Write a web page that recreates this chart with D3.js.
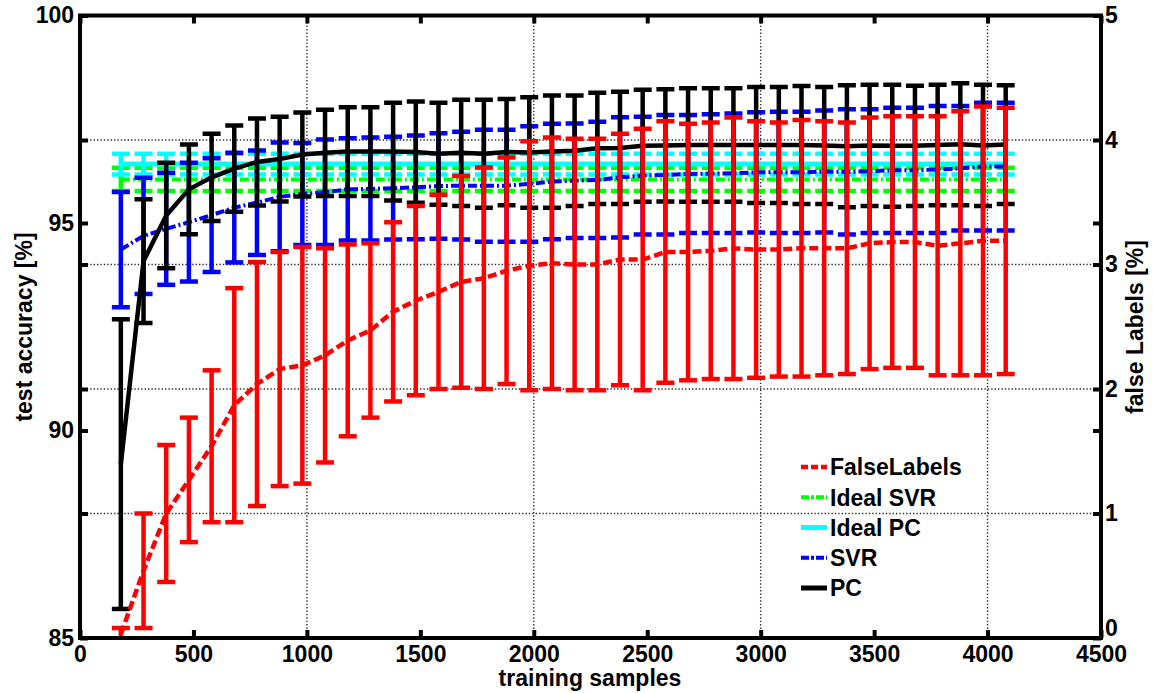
<!DOCTYPE html>
<html><head><meta charset="utf-8">
<script src="https://cdn.jsdelivr.net/npm/d3@7/dist/d3.min.js"></script>
<style>
body{margin:0;background:#fff}
text{font-family:"Liberation Sans",Arial,Helvetica,sans-serif;font-weight:bold;fill:#000}
</style>
</head><body>
<svg id="chart" width="1153" height="693"></svg>
<script>
// ---- data ----
const trainingSamples = [180,280,380,480,580,680,780,880,980,1080,1180,1280,1380,1480,1580,1680,1780,1880,1980,2080,2180,2280,2380,2480,2580,2680,2780,2880,2980,3080,3180,3280,3380,3480,3580,3680,3780,3880,3980,4080];
const pcMean  = [89.19,94.08,95.18,95.81,96.10,96.31,96.47,96.54,96.65,96.69,96.72,96.72,96.72,96.71,96.67,96.69,96.67,96.71,96.70,96.72,96.74,96.80,96.81,96.86,96.87,96.88,96.88,96.88,96.88,96.88,96.88,96.87,96.85,96.87,96.86,96.86,96.88,96.90,96.87,96.89];
const pcErr   = [3.49,1.49,1.27,1.08,1.05,1.04,1.05,1.02,1.01,1.04,1.07,1.07,1.18,1.22,1.23,1.28,1.30,1.28,1.33,1.35,1.33,1.34,1.35,1.35,1.35,1.37,1.37,1.37,1.40,1.40,1.42,1.41,1.47,1.46,1.47,1.45,1.45,1.47,1.46,1.43];
const svrMean = [94.36,94.69,94.86,95.02,95.19,95.37,95.49,95.63,95.70,95.74,95.81,95.82,95.84,95.86,95.89,95.90,95.90,95.90,95.94,96.00,96.02,96.04,96.10,96.14,96.16,96.18,96.19,96.20,96.22,96.22,96.22,96.24,96.23,96.25,96.27,96.27,96.29,96.32,96.36,96.36];
const svrErr  = [1.39,1.40,1.35,1.43,1.37,1.32,1.26,1.31,1.23,1.27,1.23,1.24,1.24,1.25,1.27,1.30,1.35,1.35,1.39,1.39,1.38,1.40,1.45,1.42,1.44,1.42,1.43,1.44,1.45,1.46,1.46,1.47,1.51,1.49,1.51,1.51,1.53,1.50,1.54,1.54];
const idealPcMean  = [96.42,96.42,96.42,96.42,96.42,96.42,96.42,96.42,96.42,96.42,96.42,96.42,96.42,96.42,96.42,96.42,96.42,96.42,96.42,96.42,96.42,96.42,96.42,96.42,96.42,96.42,96.42,96.42,96.42,96.42,96.42,96.42,96.42,96.42,96.42,96.42,96.42,96.42,96.42,96.42];
const idealPcErr   = [0.25,0.25,0.25,0.25,0.25,0.25,0.25,0.25,0.25,0.25,0.25,0.25,0.25,0.25,0.25,0.25,0.25,0.25,0.25,0.25,0.25,0.25,0.25,0.25,0.25,0.25,0.25,0.25,0.25,0.25,0.25,0.25,0.25,0.25,0.25,0.25,0.25,0.25,0.25,0.25];
const idealSvrMean = [96.05,96.05,96.05,96.05,96.05,96.05,96.05,96.05,96.05,96.05,96.05,96.05,96.05,96.05,96.05,96.05,96.05,96.05,96.05,96.05,96.05,96.05,96.05,96.05,96.05,96.05,96.05,96.05,96.05,96.05,96.05,96.05,96.05,96.05,96.05,96.05,96.05,96.05,96.05,96.05];
const idealSvrErr  = [0.28,0.28,0.28,0.28,0.28,0.28,0.28,0.28,0.28,0.28,0.28,0.28,0.28,0.28,0.28,0.28,0.28,0.28,0.28,0.28,0.28,0.28,0.28,0.28,0.28,0.28,0.28,0.28,0.28,0.28,0.28,0.28,0.28,0.28,0.28,0.28,0.28,0.28,0.28,0.28];
const falseLabelsMean = [0.03,0.54,1.00,1.27,1.54,1.87,2.04,2.16,2.19,2.27,2.39,2.47,2.62,2.71,2.78,2.86,2.89,2.95,2.99,3.01,3.00,3.00,3.04,3.04,3.10,3.10,3.11,3.13,3.12,3.12,3.13,3.13,3.13,3.17,3.18,3.18,3.15,3.17,3.19,3.19];
const falseLabelsErr  = [0.05,0.46,0.55,0.50,0.61,0.94,0.98,0.94,0.95,0.86,0.77,0.70,0.72,0.76,0.78,0.85,0.89,0.91,1.00,1.01,1.01,1.01,1.01,1.05,1.05,1.03,1.03,1.05,1.03,1.02,1.03,1.02,1.01,1.01,1.01,1.01,1.04,1.06,1.08,1.07];

const xTicks = [0,500,1000,1500,2000,2500,3000,3500,4000,4500];
const xGridTicks = [1000,2000,3000,4000];
const yLeftTicks = [85,90,95,100];
const yRightTicks = [0,1,2,3,4,5];
const yRightGrid = [1,2,3,4];
const legendLabels = ["FalseLabels","Ideal SVR","Ideal PC","SVR","PC"];

// ---- layout ----
const L = 80, R = 1101, T = 15.5, B = 638;
const svg = d3.select("#chart");
const x = d3.scaleLinear().domain([0,4500]).range([L,R]);
const yL = d3.scaleLinear().domain([85,100]).range([B,T]);
const yR = d3.scaleLinear().domain([0,5]).range([B,T]);

svg.append("defs").append("clipPath").attr("id","clip")
  .append("rect").attr("x",L).attr("y",T).attr("width",R-L).attr("height",B-T);

// grid
const grid = svg.append("g").attr("stroke","#333").attr("stroke-width",1.4).attr("stroke-dasharray","1.4,2");
grid.selectAll(".gx").data(xGridTicks).join("line")
  .attr("x1",d=>x(d)).attr("x2",d=>x(d)).attr("y1",T).attr("y2",B);
grid.selectAll(".gy").data(yRightGrid).join("line")
  .attr("x1",L).attr("x2",R).attr("y1",d=>yR(d)).attr("y2",d=>yR(d));

const plot = svg.append("g").attr("clip-path","url(#clip)");

function errSeries(means, errs, yScale, color, dash, lw){
  const g = plot.append("g");
  const idx = d3.range(means.length);
  g.selectAll("line.v").data(idx).join("line")
    .attr("x1",i=>x(trainingSamples[i])).attr("x2",i=>x(trainingSamples[i]))
    .attr("y1",i=>yScale(means[i]+errs[i])).attr("y2",i=>yScale(means[i]-errs[i]))
    .attr("stroke",color).attr("stroke-width",4.5);
  [1,-1].forEach(s=>{
    g.selectAll(null).data(idx).join("line")
      .attr("x1",i=>x(trainingSamples[i])-9).attr("x2",i=>x(trainingSamples[i])+9)
      .attr("y1",i=>yScale(means[i]+s*errs[i])).attr("y2",i=>yScale(means[i]+s*errs[i]))
      .attr("stroke",color).attr("stroke-width",4.5);
  });
  const line = d3.line().x(i=>x(trainingSamples[i])).y(i=>yScale(means[i])).curve(d3.curveLinear);
  g.append("path").attr("d",line(idx)).attr("fill","none")
    .attr("stroke",color).attr("stroke-width",lw)
    .attr("stroke-dasharray",dash).attr("stroke-linejoin","round");
}

errSeries(idealSvrMean, idealSvrErr, yL, "#00ff00", "9,3,2,3", 4);
errSeries(idealPcMean, idealPcErr, yL, "#00ffff", null, 5);
errSeries(svrMean, svrErr, yL, "#0000ff", "9,3,2,3", 4);
errSeries(pcMean, pcErr, yL, "#000000", null, 4.5);
errSeries(falseLabelsMean, falseLabelsErr, yR, "#ff0000", "9,4", 4.5);

// axes frame
svg.append("rect").attr("x",L).attr("y",T).attr("width",R-L).attr("height",B-T)
  .attr("fill","none").attr("stroke","#000").attr("stroke-width",4);

function styleAxis(g, fs){
  g.select(".domain").remove();
  g.selectAll(".tick line").attr("stroke","#000").attr("stroke-width",4);
  g.selectAll(".tick text").style("font-size",fs+"px").attr("fill","#000");
}
const fs = 23;
svg.append("g").attr("transform",`translate(0,${B})`)
  .call(d3.axisBottom(x).tickValues(xTicks).tickSize(-8).tickPadding(8).tickFormat(d3.format("d")))
  .call(g=>styleAxis(g,fs));
svg.append("g").attr("transform",`translate(0,${T})`)
  .call(d3.axisTop(x).tickValues(xTicks).tickSize(-8).tickFormat(""))
  .call(g=>styleAxis(g,fs));
svg.append("g").attr("transform",`translate(${L},0)`)
  .call(d3.axisLeft(yL).tickValues(yLeftTicks).tickSize(-8).tickPadding(6).tickFormat(d3.format("d")))
  .call(g=>styleAxis(g,fs));
svg.append("g").attr("transform",`translate(${L},0)`)
  .call(d3.axisLeft(yR).tickValues(yRightGrid).tickSize(-8).tickFormat(""))
  .call(g=>styleAxis(g,fs));
svg.append("g").attr("transform",`translate(${R},0)`)
  .call(d3.axisRight(yR).tickValues(yRightTicks).tickSize(-8).tickPadding(4).tickFormat(d3.format("d")))
  .call(g=>styleAxis(g,fs))
  .call(g=>g.selectAll(".tick").filter(d=>d===0).select("text").attr("dy","-0.12em"));
svg.append("g").attr("transform",`translate(${R},0)`)
  .call(d3.axisRight(yL).tickValues([90,95]).tickSize(-8).tickFormat(""))
  .call(g=>styleAxis(g,fs));

// axis titles
svg.append("text").attr("x",590).attr("y",686).attr("text-anchor","middle")
  .style("font-size","23px").text("training samples");
svg.append("text").attr("transform","translate(32,327) rotate(-90)").attr("text-anchor","middle")
  .style("font-size","23px").text("test accuracy [%]");
svg.append("text").attr("transform","translate(1143,327) rotate(-90)").attr("text-anchor","middle")
  .style("font-size","23px").text("false Labels [%]");

// legend
const legendStyles = [
  {color:"#ff0000", dash:"7,3", w:4.5},
  {color:"#00ff00", dash:"8,2,3,2", w:4},
  {color:"#00ffff", dash:null, w:5},
  {color:"#0000ff", dash:"8,2,3,2", w:4},
  {color:"#000000", dash:null, w:5}
];
const legY = d3.scalePoint().domain(legendLabels).range([467,588]);
const leg = svg.append("g");
legendLabels.forEach((lab,i)=>{
  const yy = legY(lab);
  leg.append("line").attr("x1",801).attr("x2",827).attr("y1",yy).attr("y2",yy)
    .attr("stroke",legendStyles[i].color).attr("stroke-width",legendStyles[i].w)
    .attr("stroke-dasharray",legendStyles[i].dash);
  leg.append("text").attr("x",830).attr("y",yy).attr("dy","0.36em")
    .style("font-size","23px").text(lab);
});
</script>
</body></html>
